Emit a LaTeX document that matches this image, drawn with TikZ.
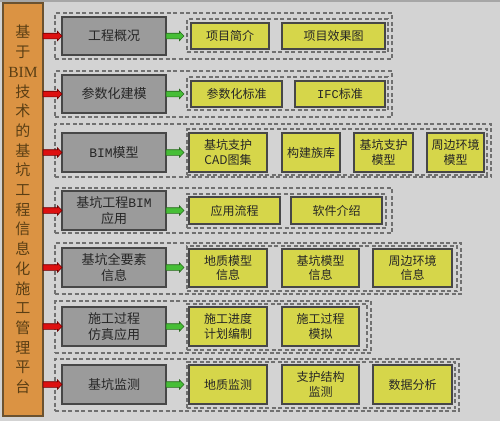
\documentclass[tikz,border=0pt]{standalone}
\usepackage{fontspec}
\setmainfont{Noto Sans CJK SC}
\newfontfamily\latinserif{Liberation Serif}
\newfontfamily\latinmono{Liberation Mono}
\usetikzlibrary{calc}
\definecolor{bg}{HTML}{D3D3D3}
\definecolor{topline}{HTML}{A6A6A6}
\definecolor{orangef}{HTML}{DB9343}
\definecolor{orangeedge}{HTML}{6B5230}
\definecolor{orangetxt}{HTML}{5A3E14}
\definecolor{grayf}{HTML}{9B9B9B}
\definecolor{yelf}{HTML}{D6D64A}
\definecolor{edge}{HTML}{474747}
\definecolor{dashc}{HTML}{707070}
\definecolor{txt}{HTML}{262626}
\definecolor{redf}{HTML}{DD1010}
\definecolor{rededge}{HTML}{6E0000}
\definecolor{greenf}{HTML}{46BE36}
\definecolor{greenedge}{HTML}{2A6A20}
\tikzset{
  dbox/.style={draw=dashc, dash pattern=on 4pt off 2.5pt, line width=1.1pt, inner sep=0pt, outer sep=0pt},
  graybox/.style={draw=edge, fill=grayf, line width=1.1pt, inner sep=0pt, outer sep=0pt,
    align=center, text=txt, font=\fontsize{13}{16}\selectfont},
  yelbox/.style={draw=edge, fill=yelf, line width=1.1pt, inner sep=0pt, outer sep=0pt,
    align=center, text=txt, font=\fontsize{12}{14.5}\selectfont},
  sidebox/.style={draw=orangeedge, fill=orangef, line width=1.1pt, inner sep=0pt, outer sep=0pt,
    align=center, text=orangetxt, font=\fontsize{15}{19.7}\selectfont},
}
% style, name, x1, x2, y1, y2, text
\newcommand\mkbox[7]{\node[#1, minimum width={#4-#3}, minimum height={#6-#5}] (#2) at ({(#3+#4)/2},{(#5+#6)/2}) {#7};}
% from, to, y reference, fill, edge
\newcommand\blkarrow[5]{%
  \filldraw[fill=#4, draw=#5, line width=0.6pt]
    let \p1=(#1), \p2=(#2), \p3=(#3) in
    (\x1,\y3+2.8pt) -- (\x2-4.5pt,\y3+2.8pt) -- (\x2-4.5pt,\y3+4.6pt) -- (\x2,\y3)
    -- (\x2-4.5pt,\y3-4.6pt) -- (\x2-4.5pt,\y3-2.8pt) -- (\x1,\y3-2.8pt) -- cycle;}
\begin{document}
\begin{tikzpicture}[x=1pt,y=-1pt]
\fill[bg] (0,0) rectangle (500,421);
\useasboundingbox (0,0) rectangle (500,421);
\draw[topline, line width=1.5pt] (0,0.75) -- (500,0.75);

% dashed frames
\mkbox{dbox}{o1}{55}{392}{13}{59}{}
\mkbox{dbox}{i1}{187}{388}{19}{52}{}
\mkbox{dbox}{o2}{55}{392}{71}{117}{}
\mkbox{dbox}{i2}{187}{388}{77}{110}{}
\mkbox{dbox}{o3}{55}{491}{124}{177}{}
\mkbox{dbox}{i3}{187}{487}{129}{175}{}
\mkbox{dbox}{o4}{55}{392}{188}{233}{}
\mkbox{dbox}{i4}{187}{386}{194}{228}{}
\mkbox{dbox}{o5}{55}{461}{243}{294}{}
\mkbox{dbox}{i5}{187}{457}{246}{291}{}
\mkbox{dbox}{o6}{55}{371}{301}{353}{}
\mkbox{dbox}{i6}{187}{367}{304}{350}{}
\mkbox{dbox}{o7}{55}{459}{359}{411}{}
\mkbox{dbox}{i7}{187}{455}{362}{408}{}

% left column
\mkbox{sidebox}{L}{3}{43}{3}{416}{基\\于\\{\latinserif\fontsize{15.5}{19.7}\selectfont BIM}\\技\\术\\的\\基\\坑\\工\\程\\信\\息\\化\\施\\工\\管\\理\\平\\台}

% gray boxes
\mkbox{graybox}{g1}{62}{166}{17}{55}{工程概况}
\mkbox{graybox}{g2}{62}{166}{75}{113}{参数化建模}
\mkbox{graybox}{g3}{62}{166}{133}{172}{{\latinmono BIM}模型}
\mkbox{graybox}{g4}{62}{166}{191}{230}{基坑工程{\latinmono BIM}\\应用}
\mkbox{graybox}{g5}{62}{166}{248}{287}{基坑全要素\\信息}
\mkbox{graybox}{g6}{62}{166}{307}{346}{施工过程\\仿真应用}
\mkbox{graybox}{g7}{62}{166}{365}{404}{基坑监测}

% yellow boxes
\mkbox{yelbox}{y11}{191}{269}{23}{49}{项目简介}
\mkbox{yelbox}{y12}{282}{385}{23}{49}{项目效果图}
\mkbox{yelbox}{y21}{191}{282}{81}{107}{参数化标准}
\mkbox{yelbox}{y22}{295}{385}{81}{107}{{\latinmono IFC}标准}
\mkbox{yelbox}{y31}{189}{267}{133}{172}{基坑支护\\CAD图集}
\mkbox{yelbox}{y32}{282}{340}{133}{172}{构建族库}
\mkbox{yelbox}{y33}{354}{413}{133}{172}{基坑支护\\模型}
\mkbox{yelbox}{y34}{427}{484}{133}{172}{周边环境\\模型}
\mkbox{yelbox}{y41}{189}{280}{197}{224}{应用流程}
\mkbox{yelbox}{y42}{291}{382}{197}{224}{软件介绍}
\mkbox{yelbox}{y51}{189}{267}{249}{287}{地质模型\\信息}
\mkbox{yelbox}{y52}{282}{359}{249}{287}{基坑模型\\信息}
\mkbox{yelbox}{y53}{373}{452}{249}{287}{周边环境\\信息}
\mkbox{yelbox}{y61}{189}{267}{307}{346}{施工进度\\计划编制}
\mkbox{yelbox}{y62}{282}{359}{307}{346}{施工过程\\模拟}
\mkbox{yelbox}{y71}{189}{267}{365}{404}{地质监测}
\mkbox{yelbox}{y72}{282}{359}{365}{404}{支护结构\\监测}
\mkbox{yelbox}{y73}{373}{452}{365}{404}{数据分析}

% arrows
\foreach \k in {1,...,7}{
  \blkarrow{L.east}{g\k.west}{g\k}{redf}{rededge}
  \blkarrow{g\k.east}{[xshift=-3pt]i\k.west}{g\k}{greenf}{greenedge}
}
\end{tikzpicture}
\end{document}
